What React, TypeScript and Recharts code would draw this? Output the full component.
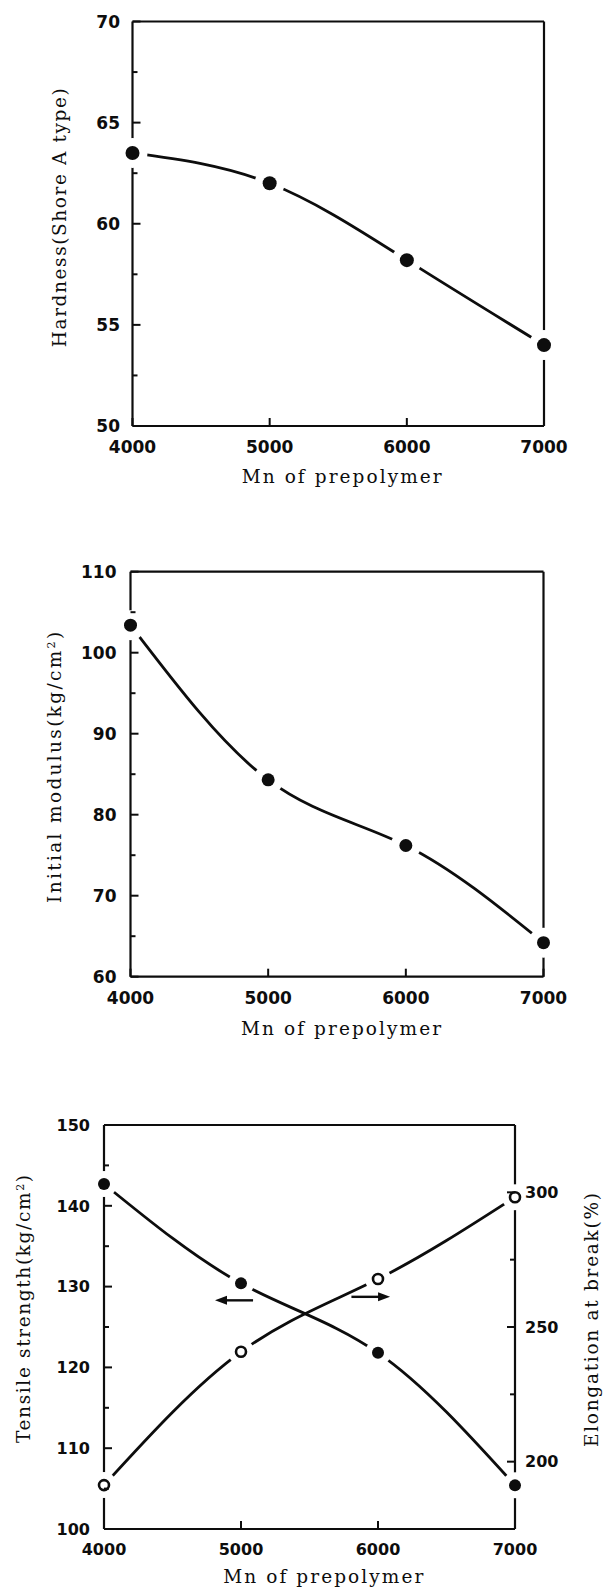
import { LineChart, Line, XAxis, YAxis, ReferenceLine } from "recharts";

// Mn of prepolymer
const mn = [4000, 5000, 6000, 7000];

// measured properties
const hardness = [63.5, 62.0, 58.2, 54.0];
const modulus = [103.4, 84.3, 76.2, 64.2];
const tensile = [142.7, 130.4, 121.8, 105.4];
const elongation = [191.3, 240.8, 267.8, 298.2];

// axis ticks
const mnTicks = [4000, 5000, 6000, 7000];
const hardnessTicks = [50, 52.5, 55, 57.5, 60, 62.5, 65, 67.5, 70];
const modulusTicks = [60, 65, 70, 75, 80, 85, 90, 95, 100, 105, 110];
const tensileTicks = [100, 105, 110, 115, 120, 125, 130, 135, 140, 145, 150];
const elongationTicks = [175, 200, 225, 250, 275, 300, 325];

// arrows pointing each curve to its axis: tail -> head
const tensileArrow = [
  { x: 5088, y: 128.3 },
  { x: 4810, y: 128.3 },
];
const elongationArrow = [
  { x: 5806, y: 261.2 },
  { x: 6088, y: 261.2 },
];

const hardnessData = mn.map((m, i) => ({ mn: m, hardness: hardness[i] }));
const modulusData = mn.map((m, i) => ({ mn: m, modulus: modulus[i] }));
const strengthData = mn.map((m, i) => ({
  mn: m,
  tensile: tensile[i],
  elongation: elongation[i],
}));

const INK = "#0d0d0d";
const TICK_FONT = "'DejaVu Sans', sans-serif";
const TITLE_FONT = "'DejaVu Serif', serif";
const CURVE_W = 2.8;

/* ===== ticks: inward tick line + bold label ===== */
const makeTick =
  (side: "bottom" | "left" | "right", gap: number, every: number, size = 17) =>
  (props: any) => {
    const { x, y, payload } = props;
    const v = payload.value;
    const major = Math.abs(v / every - Math.round(v / every)) < 1e-6;
    const len = major ? 8 : 5;
    const txt = {
      fill: INK,
      fontFamily: TICK_FONT,
      fontWeight: 700,
      fontSize: size,
    };
    if (side === "bottom") {
      const y0 = y - gap;
      return (
        <g>
          <line x1={x} y1={y0} x2={x} y2={y0 - len} stroke={INK} strokeWidth={2} />
          <text x={x} y={y} dy="0.36em" textAnchor="middle" {...txt}>
            {v}
          </text>
        </g>
      );
    }
    if (side === "left") {
      const x0 = x + gap;
      return (
        <g>
          <line x1={x0} y1={y} x2={x0 + len} y2={y} stroke={INK} strokeWidth={2} />
          {major && (
            <text x={x} y={y} dy="0.36em" textAnchor="end" {...txt}>
              {v}
            </text>
          )}
        </g>
      );
    }
    const x0 = x - gap;
    return (
      <g>
        <line x1={x0} y1={y} x2={x0 - len} y2={y} stroke={INK} strokeWidth={2} />
        {major && (
          <text x={x} y={y} dy="0.36em" textAnchor="start" {...txt}>
            {v}
          </text>
        )}
      </g>
    );
  };

/* ===== markers with a white gap around them ===== */
const makeDot = (r: number, halo: number, filled: boolean) => (props: any) => {
  const { cx, cy, index } = props;
  return (
    <g key={`dot-${index}`}>
      <circle cx={cx} cy={cy} r={halo} fill="#fff" />
      <circle
        cx={cx}
        cy={cy}
        r={r}
        fill={filled ? INK : "#fff"}
        stroke={INK}
        strokeWidth={filled ? 0 : 2.6}
      />
    </g>
  );
};

const arrowShape = (props: any) => {
  const { x1, y1, x2, y2 } = props;
  const dir = x2 > x1 ? 1 : -1;
  return (
    <g>
      <line x1={x1} y1={y1} x2={x2 - dir * 10} y2={y2} stroke={INK} strokeWidth={2.4} />
      <polygon
        points={`${x2},${y2} ${x2 - dir * 12},${y2 - 4.5} ${x2 - dir * 12},${y2 + 4.5}`}
        fill={INK}
      />
    </g>
  );
};

const axisLine = { stroke: INK, strokeWidth: 2.2 };

function Title({
  x,
  y,
  len,
  rotate,
  children,
}: {
  x: number;
  y: number;
  len: number;
  rotate?: boolean;
  children: any;
}) {
  return (
    <text
      x={x}
      y={y}
      textAnchor="middle"
      textLength={len}
      lengthAdjust="spacing"
      transform={rotate ? `rotate(-90 ${x} ${y})` : undefined}
      fill={INK}
      fontFamily={TITLE_FONT}
      fontSize={18.5}
    >
      {children}
    </text>
  );
}

const overlay: any = {
  position: "absolute",
  left: 0,
  top: 0,
  pointerEvents: "none",
};

function HardnessChart() {
  return (
    <div style={{ position: "absolute", left: 0, top: 0, width: 605, height: 500 }}>
      <LineChart
        width={605}
        height={500}
        data={hardnessData}
        margin={{ top: 21.5, right: 61, bottom: 44, left: 72.5 }}
      >
        <Line
          dataKey="hardness"
          type="natural"
          stroke={INK}
          strokeWidth={CURVE_W}
          dot={makeDot(7, 15, true)}
          activeDot={false}
          isAnimationActive={false}
        />
        <XAxis
          dataKey="mn"
          type="number"
          domain={[4000, 7000]}
          ticks={mnTicks}
          interval={0}
          height={30}
          tickLine={false}
          tickSize={0}
          tickMargin={21}
          axisLine={axisLine}
          tick={makeTick("bottom", 21, 1000)}
        />
        <YAxis
          type="number"
          domain={[50, 70]}
          ticks={hardnessTicks}
          interval={0}
          width={60}
          tickLine={false}
          tickSize={0}
          tickMargin={12.5}
          axisLine={axisLine}
          tick={makeTick("left", 12.5, 5)}
        />
        <ReferenceLine y={70} stroke={INK} strokeWidth={2.2} />
        <ReferenceLine x={7000} stroke={INK} strokeWidth={2.2} />
      </LineChart>
      <svg width={605} height={500} style={overlay}>
        <Title x={341.7} y={483.3} len={200}>
          Mn of prepolymer
        </Title>
        <Title x={66} y={217.7} len={259} rotate>
          Hardness(Shore A type)
        </Title>
      </svg>
    </div>
  );
}

function ModulusChart() {
  return (
    <div style={{ position: "absolute", left: 0, top: 540, width: 605, height: 510 }}>
      <LineChart
        width={605}
        height={510}
        data={modulusData}
        margin={{ top: 31.7, right: 61.5, bottom: 43.3, left: 70.5 }}
      >
        <Line
          dataKey="modulus"
          type="natural"
          stroke={INK}
          strokeWidth={CURVE_W}
          dot={makeDot(6.5, 15, true)}
          activeDot={false}
          isAnimationActive={false}
        />
        <XAxis
          dataKey="mn"
          type="number"
          domain={[4000, 7000]}
          ticks={mnTicks}
          interval={0}
          height={30}
          tickLine={false}
          tickSize={0}
          tickMargin={21.5}
          axisLine={axisLine}
          tick={makeTick("bottom", 21.5, 1000)}
        />
        <YAxis
          type="number"
          domain={[60, 110]}
          ticks={modulusTicks}
          interval={0}
          width={60}
          tickLine={false}
          tickSize={0}
          tickMargin={14}
          axisLine={axisLine}
          tick={makeTick("left", 14, 10)}
        />
        <ReferenceLine y={110} stroke={INK} strokeWidth={2.2} />
        <ReferenceLine x={7000} stroke={INK} strokeWidth={2.2} />
      </LineChart>
      <svg width={605} height={510} style={overlay}>
        <Title x={341} y={495} len={200}>
          Mn of prepolymer
        </Title>
        <Title x={61} y={227.4} len={271} rotate>
          Initial modulus(kg/cm<tspan baselineShift="super" fontSize={11}>2</tspan>)
        </Title>
      </svg>
    </div>
  );
}

function StrengthChart() {
  return (
    <div style={{ position: "absolute", left: 0, top: 1080, width: 605, height: 507 }}>
      <LineChart
        width={605}
        height={507}
        data={strengthData}
        margin={{ top: 45, right: 30, bottom: 28, left: 44 }}
      >
        <Line
          yAxisId="left"
          dataKey="tensile"
          type="natural"
          stroke={INK}
          strokeWidth={CURVE_W}
          dot={makeDot(6, 13, true)}
          activeDot={false}
          isAnimationActive={false}
        />
        <Line
          yAxisId="right"
          dataKey="elongation"
          type="natural"
          stroke={INK}
          strokeWidth={CURVE_W}
          dot={makeDot(5, 13, false)}
          activeDot={false}
          isAnimationActive={false}
        />
        <XAxis
          dataKey="mn"
          type="number"
          domain={[4000, 7000]}
          ticks={mnTicks}
          interval={0}
          height={30}
          tickLine={false}
          tickSize={0}
          tickMargin={20}
          axisLine={axisLine}
          tick={makeTick("bottom", 20, 1000, 16)}
        />
        <YAxis
          yAxisId="left"
          type="number"
          domain={[100, 150]}
          ticks={tensileTicks}
          interval={0}
          width={60}
          tickLine={false}
          tickSize={0}
          tickMargin={14}
          axisLine={axisLine}
          tick={makeTick("left", 14, 10, 16)}
        />
        <YAxis
          yAxisId="right"
          orientation="right"
          type="number"
          domain={[175, 325]}
          ticks={elongationTicks}
          interval={0}
          width={60}
          tickLine={false}
          tickSize={0}
          tickMargin={10}
          axisLine={axisLine}
          tick={makeTick("right", 10, 50, 16)}
        />
        <ReferenceLine yAxisId="left" y={150} stroke={INK} strokeWidth={2.2} />
        <ReferenceLine
          yAxisId="left"
          segment={tensileArrow}
          shape={arrowShape}
          ifOverflow="visible"
        />
        <ReferenceLine
          yAxisId="right"
          segment={elongationArrow}
          shape={arrowShape}
          ifOverflow="visible"
        />
      </LineChart>
      <svg width={605} height={507} style={overlay}>
        <Title x={323.3} y={503.3} len={200}>
          Mn of prepolymer
        </Title>
        <Title x={30} y={229} len={268} rotate>
          Tensile strength(kg/cm<tspan baselineShift="super" fontSize={11}>2</tspan>)
        </Title>
        <Title x={598} y={240} len={254} rotate>
          Elongation at break(%)
        </Title>
      </svg>
    </div>
  );
}

export default function App() {
  return (
    <div
      style={{
        position: "absolute",
        left: 0,
        top: 0,
        width: 605,
        height: 1587,
        background: "#fff",
      }}
    >
      <HardnessChart />
      <ModulusChart />
      <StrengthChart />
    </div>
  );
}
